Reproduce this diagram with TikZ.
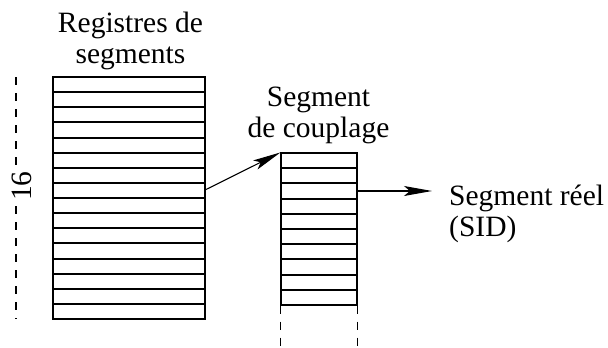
\documentclass[tikz,border=0pt]{standalone}
\usepackage{fontspec}
\setmainfont{Liberation Serif}
\usetikzlibrary{arrows.meta}

\tikzset{
	stack/.style={draw, line width=1.1pt, inner sep=0pt},
	link/.style={line width=1.1pt, -{Stealth[length=28pt,width=10pt,inset=6pt]}},
	rows/.style={line width=1.1pt},
	dashline/.style={line width=1.1pt, dash pattern=on 8pt off 8pt},
	caption/.style={align=center, inner sep=0pt, anchor=north}
}

\begin{document}
\begin{tikzpicture}[x=1pt,y=-1pt,font=\fontsize{29.5}{31}\selectfont]
		\useasboundingbox (0,0) rectangle (608,348);
		\pgfmathsetmacro{\rowH}{242/16}
		
		% registres de segments
		\node[stack, minimum width=152pt, minimum height=242pt] (regs) at (129,198) {};
		\foreach \i in {1,2,...,15} {
			\pgfmathsetmacro{\yy}{round(77+\i*\rowH)}
			\draw[rows] (53,\yy) -- (205,\yy);
		}
		\node[caption] (regsname) at (130.5,12) {Registres de\\segments};
		
		% hauteur 16
		\node[rotate=90, inner sep=0pt] (sixteen) at (22,186) {16};
		\coordinate (ttop) at (16,77);
		\coordinate (tmidA) at (16,168);
		\coordinate (tmidB) at (16,206);
		\coordinate (tbot) at (16,319);
		\draw[dashline] (ttop) -- (tmidA);
		\draw[dashline] (tmidB) -- (tbot);
		
		% segment de couplage
		\node[stack, minimum width=76pt, minimum height=152pt] (coup) at (319,229) {};
		\foreach \i in {1,2,...,9} {
			\pgfmathsetmacro{\yy}{round(153+\i*15.2)}
			\draw[rows] (281,\yy) -- (357,\yy);
		}
		\draw[dashline] (coup.south west) -- ++(0,45);
		\draw[dashline] (coup.south east) -- ++(0,45);
		\node[caption] (coupname) at (318.5,87) {Segment\\de couplage};
		
		% fleches
		\coordinate (regsout) at (205,190);
		\draw[link] (regsout) -- (coup.north west);
		\coordinate (coupout) at (357,191);
		\coordinate (realin) at (432,191);
		\draw[link] (coupout) -- (realin);
		\node[align=left, inner sep=0pt, anchor=north west] (real) at (449,185) {Segment réel\\(SID)};
	\end{tikzpicture}
\end{document}
